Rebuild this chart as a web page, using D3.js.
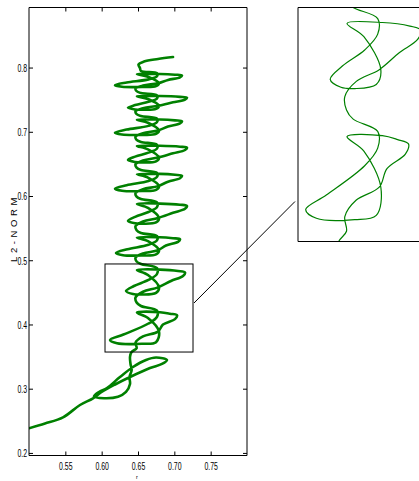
<!DOCTYPE html>
<html>
<head>
<meta charset="utf-8">
<script src="https://cdn.jsdelivr.net/npm/d3@7"></script>
<style>
  html, body { margin: 0; padding: 0; background: #fff; }
  svg { display: block; }
</style>
</head>
<body>
<svg id="chart" width="419" height="481"></svg>
<script>
// Trajectory in the (r, L2-norm) plane, listed from the upper end down to the start at r = 0.5.
const rValues = [
  0.6982, 0.6775, 0.6583, 0.6507, 0.6527,
  0.6541, 0.6761, 0.6761, 0.6644, 0.6344, 0.6183, 0.6280, 0.6555, 0.6748, 0.6789, 0.6637, 0.6486, 0.6803, 0.7009, 0.7105, 0.7078, 0.6913, 0.6775, 0.6569, 0.6466, 0.6481,
  0.6541, 0.6761, 0.6761, 0.6644, 0.6461, 0.6362, 0.6459, 0.6555, 0.6748, 0.6789, 0.6637, 0.6486, 0.6803, 0.7078, 0.7174, 0.7147, 0.6982, 0.6775, 0.6569, 0.6466, 0.6481,
  0.6541, 0.6761, 0.6761, 0.6644, 0.6344, 0.6183, 0.6280, 0.6555, 0.6748, 0.6789, 0.6637, 0.6486, 0.6803, 0.7009, 0.7105, 0.7078, 0.6913, 0.6775, 0.6569, 0.6466, 0.6481,
  0.6541, 0.6761, 0.6761, 0.6644, 0.6461, 0.6362, 0.6459, 0.6555, 0.6748, 0.6789, 0.6637, 0.6486, 0.6803, 0.7078, 0.7174, 0.7147, 0.6982, 0.6775, 0.6569, 0.6466, 0.6481,
  0.6541, 0.6761, 0.6761, 0.6644, 0.6344, 0.6183, 0.6280, 0.6555, 0.6748, 0.6789, 0.6637, 0.6486, 0.6803, 0.7009, 0.7105, 0.7078, 0.6913, 0.6775, 0.6569, 0.6466, 0.6481,
  0.6541, 0.6761, 0.6761, 0.6644, 0.6461, 0.6362, 0.6459, 0.6555, 0.6748, 0.6789, 0.6637, 0.6486, 0.6803, 0.7078, 0.7174, 0.7147, 0.6982, 0.6775, 0.6569, 0.6466, 0.6481,
  0.6541, 0.6761, 0.6761, 0.6644, 0.6354, 0.6197, 0.6294, 0.6555, 0.6748, 0.6789, 0.6637, 0.6486, 0.6803, 0.6981, 0.7078, 0.7050, 0.6885, 0.6775, 0.6569, 0.6466, 0.6481,
  0.6541, 0.6761, 0.6761, 0.6644, 0.6444, 0.6335, 0.6431, 0.6555, 0.6748, 0.6789, 0.6637, 0.6486, 0.6803, 0.7050, 0.7147, 0.7119, 0.6954, 0.6775, 0.6569, 0.6466, 0.6481,
  0.6541, 0.6761, 0.6761, 0.6644, 0.6300, 0.6115, 0.6211, 0.6555, 0.6748, 0.6789, 0.6637, 0.6486, 0.6803, 0.6940, 0.7037, 0.7009, 0.6844, 0.6775, 0.6569, 0.6466, 0.6481,
  0.6411, 0.6390, 0.6397, 0.6413, 0.6383, 0.6390, 0.6335, 0.6225, 0.6032, 0.5894, 0.5963, 0.6073, 0.6252, 0.6431, 0.6610, 0.6748, 0.6899, 0.6830, 0.6665, 0.6390, 0.6197, 0.6005, 0.5881, 0.5702, 0.5468, 0.5220, 0.5000
];
const l2Values = [
  0.8164, 0.8133, 0.8094, 0.8048, 0.7993,
  0.7946, 0.7912, 0.7865, 0.7816, 0.7767, 0.7726, 0.7701, 0.7697, 0.7710, 0.7755, 0.7856, 0.7897, 0.7900, 0.7889, 0.7877, 0.7848, 0.7807, 0.7755, 0.7719, 0.7673, 0.7632,
  0.7604, 0.7568, 0.7519, 0.7468, 0.7416, 0.7374, 0.7348, 0.7344, 0.7357, 0.7405, 0.7510, 0.7553, 0.7556, 0.7544, 0.7532, 0.7502, 0.7459, 0.7405, 0.7367, 0.7318, 0.7276,
  0.7246, 0.7205, 0.7150, 0.7092, 0.7034, 0.6986, 0.6957, 0.6952, 0.6967, 0.7020, 0.7140, 0.7188, 0.7191, 0.7178, 0.7164, 0.7130, 0.7082, 0.7020, 0.6978, 0.6923, 0.6875,
  0.6841, 0.6797, 0.6737, 0.6675, 0.6613, 0.6561, 0.6530, 0.6524, 0.6540, 0.6598, 0.6727, 0.6779, 0.6782, 0.6768, 0.6753, 0.6716, 0.6664, 0.6598, 0.6552, 0.6493, 0.6441,
  0.6405, 0.6360, 0.6298, 0.6233, 0.6168, 0.6115, 0.6083, 0.6077, 0.6094, 0.6154, 0.6287, 0.6340, 0.6344, 0.6330, 0.6314, 0.6276, 0.6222, 0.6154, 0.6106, 0.6045, 0.5991,
  0.5953, 0.5900, 0.5827, 0.5751, 0.5676, 0.5613, 0.5575, 0.5569, 0.5588, 0.5658, 0.5814, 0.5877, 0.5882, 0.5865, 0.5846, 0.5802, 0.5739, 0.5658, 0.5603, 0.5531, 0.5468,
  0.5424, 0.5376, 0.5309, 0.5240, 0.5171, 0.5114, 0.5079, 0.5074, 0.5091, 0.5155, 0.5298, 0.5355, 0.5359, 0.5343, 0.5327, 0.5286, 0.5229, 0.5155, 0.5105, 0.5039, 0.4981,
  0.4942, 0.4877, 0.4786, 0.4693, 0.4599, 0.4521, 0.4475, 0.4467, 0.4491, 0.4578, 0.4771, 0.4849, 0.4854, 0.4833, 0.4810, 0.4755, 0.4677, 0.4578, 0.4509, 0.4420, 0.4342,
  0.4288, 0.4216, 0.4118, 0.4015, 0.3843, 0.3758, 0.3707, 0.3699, 0.3724, 0.3889, 0.4100, 0.4186, 0.4191, 0.4168, 0.4143, 0.4083, 0.3998, 0.3889, 0.3814, 0.3717, 0.3631,
  0.3571, 0.3494, 0.3385, 0.3291, 0.3182, 0.3073, 0.2949, 0.2874, 0.2851, 0.2879, 0.2949, 0.3011, 0.3182, 0.3338, 0.3447, 0.3486, 0.3447, 0.3385, 0.3322, 0.3182, 0.3073, 0.2953, 0.2851, 0.2746, 0.2555, 0.2458, 0.2384
];

const xTicks = [0.55, 0.60, 0.65, 0.70, 0.75];
const yTicks = [0.2, 0.3, 0.4, 0.5, 0.6, 0.7, 0.8];
const xDomain = [0.5, 0.8];
const yDomain = [0.196, 0.8935];
// Window enlarged in the inset
const zoomR = [0.6046, 0.7257];
const zoomL2 = [0.3571, 0.4942];

const xLabel = "r";
const yLabel = "L2-NORM";

const points = rValues.map((r, i) => [r, l2Values[i]]);

const svg = d3.select("#chart");
const LINE = "#008000";
const FONT = "'Liberation Sans', Arial, sans-serif";
const SQUEEZE = 0.66;

// ---------- main axes ----------
const x = d3.scaleLinear().domain(xDomain).range([29, 247]);
const y = d3.scaleLinear().domain(yDomain).range([455.5, 7.5]);

const defs = svg.append("defs");
defs.append("clipPath").attr("id", "mainClip")
  .append("rect")
  .attr("x", x.range()[0]).attr("y", y.range()[1])
  .attr("width", x.range()[1] - x.range()[0])
  .attr("height", y.range()[0] - y.range()[1]);

svg.append("path")
  .datum(points)
  .attr("clip-path", "url(#mainClip)")
  .attr("fill", "none")
  .attr("stroke", LINE)
  .attr("stroke-width", 2.6)
  .attr("stroke-linejoin", "round")
  .attr("stroke-linecap", "round")
  .attr("d", d3.line().x(d => x(d[0])).y(d => y(d[1])).curve(d3.curveCatmullRom.alpha(0.5)));

function styleAxis(g) {
  g.select(".domain").remove();
  g.selectAll(".tick line").attr("stroke", "#000").attr("stroke-width", 1);
  g.selectAll(".tick text")
    .attr("fill", "#000")
    .style("font-family", FONT)
    .style("font-size", "10.5px")
    .attr("transform", `scale(${SQUEEZE},1)`);
}

svg.append("g")
  .attr("transform", `translate(0,${y.range()[0]})`)
  .call(d3.axisBottom(x).tickValues(xTicks).tickSize(-4).tickPadding(7).tickFormat(d3.format(".2f")))
  .call(styleAxis);

svg.append("g")
  .attr("transform", `translate(0,${y.range()[1]})`)
  .call(d3.axisTop(x).tickValues(xTicks).tickSize(-4).tickFormat(""))
  .call(styleAxis);

svg.append("g")
  .attr("transform", `translate(${x.range()[0]},0)`)
  .call(d3.axisLeft(y).tickValues(yTicks).tickSize(-4).tickPadding(3).tickFormat(d3.format(".1f")))
  .call(styleAxis)
  .call(g => g.selectAll(".tick text").attr("dy", "0.36em"));

svg.append("g")
  .attr("transform", `translate(${x.range()[1]},0)`)
  .call(d3.axisRight(y).tickValues(yTicks).tickSize(-4).tickFormat(""))
  .call(styleAxis);

// frame
const x0 = x.range()[0], x1 = x.range()[1], yb = y.range()[0], yt = y.range()[1];
svg.append("line").attr("x1", x0).attr("x2", x1).attr("y1", yt).attr("y2", yt).attr("stroke", "#000");
svg.append("line").attr("x1", x0).attr("x2", x1).attr("y1", yb).attr("y2", yb).attr("stroke", "#000");
svg.append("line").attr("x1", x0).attr("x2", x0).attr("y1", yt).attr("y2", yb).attr("stroke", "#000");
svg.append("line").attr("x1", x1).attr("x2", x1).attr("y1", yt).attr("y2", yb).attr("stroke", "#000");

// axis titles
svg.append("text")
  .attr("transform", "translate(17,228) rotate(-90)")
  .attr("text-anchor", "middle")
  .style("font-family", FONT)
  .style("font-size", "9.5px")
  .style("letter-spacing", "3.6px")
  .text(yLabel);

svg.append("text")
  .attr("x", 137).attr("y", 479)
  .attr("text-anchor", "middle")
  .style("font-family", FONT)
  .style("font-size", "5.5px")
  .text(xLabel);

// ---------- zoom window marker ----------
svg.append("rect")
  .attr("x", x(zoomR[0])).attr("y", y(zoomL2[1]))
  .attr("width", x(zoomR[1]) - x(zoomR[0]))
  .attr("height", y(zoomL2[0]) - y(zoomL2[1]))
  .attr("fill", "none").attr("stroke", "#000").attr("stroke-width", 1);

// ---------- inset ----------
const xi = d3.scaleLinear().domain(zoomR).range([298, 433]);
const yi = d3.scaleLinear().domain(zoomL2).range([241.5, 7.5]);

svg.append("line")
  .attr("x1", x(zoomR[1]) + 1).attr("y1", 303)
  .attr("x2", xi.range()[0] - 3).attr("y2", 201.5)
  .attr("stroke", "#000").attr("stroke-width", 1);

defs.append("clipPath").attr("id", "insetClip")
  .append("rect")
  .attr("x", xi.range()[0]).attr("y", yi.range()[1])
  .attr("width", xi.range()[1] - xi.range()[0])
  .attr("height", yi.range()[0] - yi.range()[1]);

svg.append("rect")
  .attr("x", xi.range()[0]).attr("y", yi.range()[1])
  .attr("width", xi.range()[1] - xi.range()[0])
  .attr("height", yi.range()[0] - yi.range()[1])
  .attr("fill", "#fff");

svg.append("path")
  .datum(points)
  .attr("clip-path", "url(#insetClip)")
  .attr("fill", "none")
  .attr("stroke", LINE)
  .attr("stroke-width", 1.2)
  .attr("stroke-linejoin", "round")
  .attr("d", d3.line().x(d => xi(d[0])).y(d => yi(d[1])).curve(d3.curveCatmullRom.alpha(0.5)));

const ix0 = xi.range()[0], ix1 = xi.range()[1], iyb = yi.range()[0], iyt = yi.range()[1];
svg.append("line").attr("x1", ix0).attr("x2", ix1).attr("y1", iyt).attr("y2", iyt).attr("stroke", "#000");
svg.append("line").attr("x1", ix0).attr("x2", ix1).attr("y1", iyb).attr("y2", iyb).attr("stroke", "#000");
svg.append("line").attr("x1", ix0).attr("x2", ix0).attr("y1", iyt).attr("y2", iyb).attr("stroke", "#000");
</script>
</body>
</html>
